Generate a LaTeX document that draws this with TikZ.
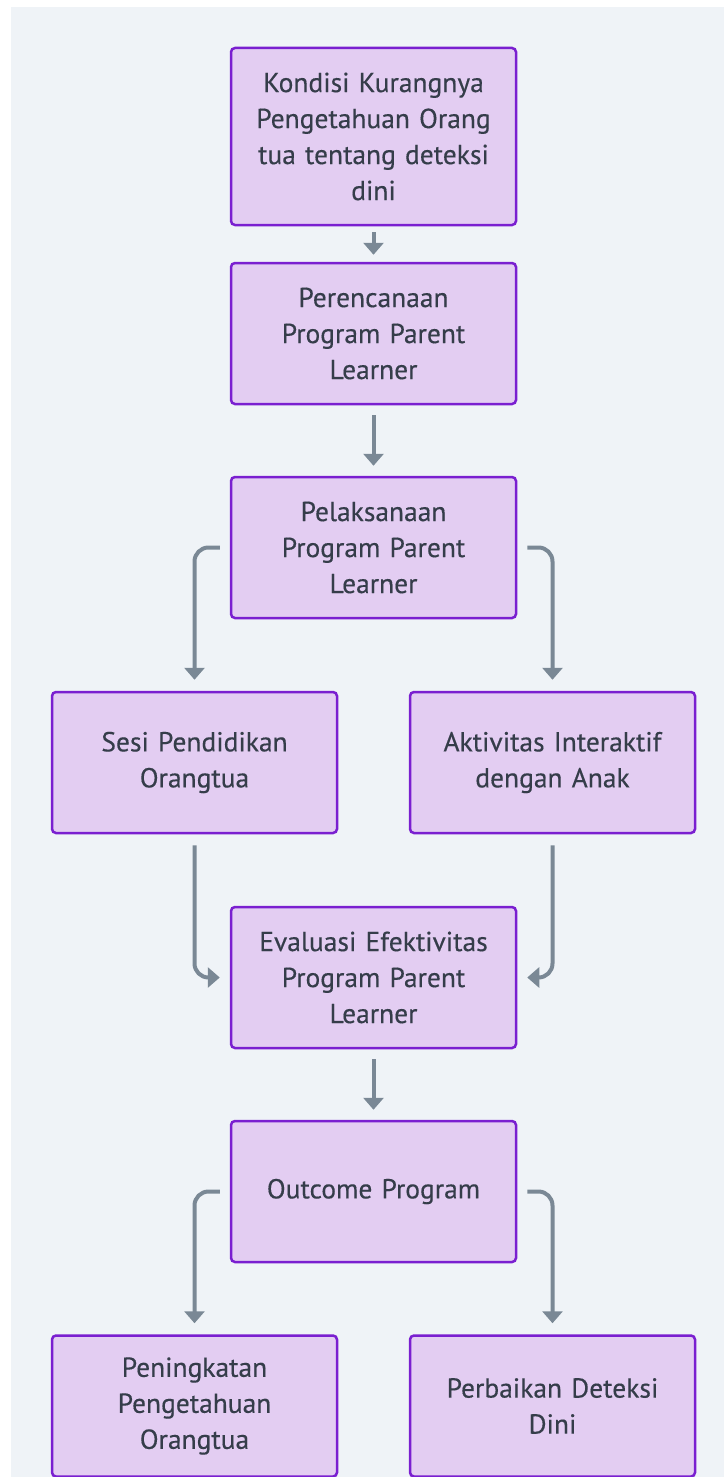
\documentclass[tikz,border=0pt]{standalone}
\usepackage{fontspec}
\setmainfont{PT Sans}
\newfontfamily\boxfont{PT Sans}[FakeBold=0.35]
\usetikzlibrary{arrows.meta}
\definecolor{bg}{HTML}{EFF3F7}
\definecolor{boxfill}{HTML}{E3CDF2}
\definecolor{boxdraw}{HTML}{7A1FD0}
\definecolor{txt}{HTML}{353D4A}
\definecolor{arr}{HTML}{7A8895}
\begin{document}
\begin{tikzpicture}[x=1pt,y=-1pt,
  box/.style={draw=boxdraw, fill=boxfill, line width=2.5pt, rounded corners=4pt,
    minimum width=285pt, minimum height=141pt, text width=270pt, align=center,
    font=\boxfont\fontsize{27.5}{36}\selectfont, text=txt, inner sep=0pt},
  conn/.style={draw=arr, line width=4pt, -{Triangle[width=20pt,length=12pt]}, rounded corners=14pt}]
\useasboundingbox (0,0) rectangle (724,1477);
\fill[white] (0,0) rectangle (724,1477);
\fill[bg] (11,7) rectangle (724,1477);
\node[box, minimum height=177pt] (b1) at (373.5,136.5) {Kondisi Kurangnya\\Pengetahuan Orang\\tua tentang deteksi\\dini};
\node[box] (b2) at (373.5,333.5) {Perencanaan\\Program Parent\\Learner};
\node[box] (b3) at (373.5,547.5) {Pelaksanaan\\Program Parent\\Learner};
\node[box] (b4) at (194.5,762.5) {Sesi Pendidikan\\Orangtua};
\node[box] (b5) at (552.5,762.5) {Aktivitas Interaktif\\dengan Anak};
\node[box] (b6) at (373.5,977.5) {Evaluasi Efektivitas\\Program Parent\\Learner};
\node[box] (b7) at (373.5,1191.5) {Outcome Program};
\node[box] (b8) at (194.5,1406) {Peningkatan\\Pengetahuan\\Orangtua};
\node[box] (b9) at (552.5,1406) {Perbaikan Deteksi\\Dini};
\draw[conn, shorten <=6pt, shorten >=7pt] (b1.south) -- (b2.north);
\draw[conn, shorten <=10pt, shorten >=10pt] (b2.south) -- (b3.north);
\draw[conn] ([xshift=-10pt]b3.west) -| ([yshift=11pt]b4.north);
\draw[conn] ([xshift=10pt]b3.east) -| ([yshift=11pt]b5.north);
\draw[conn] ([yshift=-11pt]b4.south) |- ([xshift=-10pt]b6.west);
\draw[conn] ([yshift=-11pt]b5.south) |- ([xshift=10pt]b6.east);
\draw[conn, shorten <=10pt, shorten >=10pt] (b6.south) -- (b7.north);
\draw[conn] ([xshift=-10pt]b7.west) -| ([yshift=11pt]b8.north);
\draw[conn] ([xshift=10pt]b7.east) -| ([yshift=11pt]b9.north);
\end{tikzpicture}
\end{document}
